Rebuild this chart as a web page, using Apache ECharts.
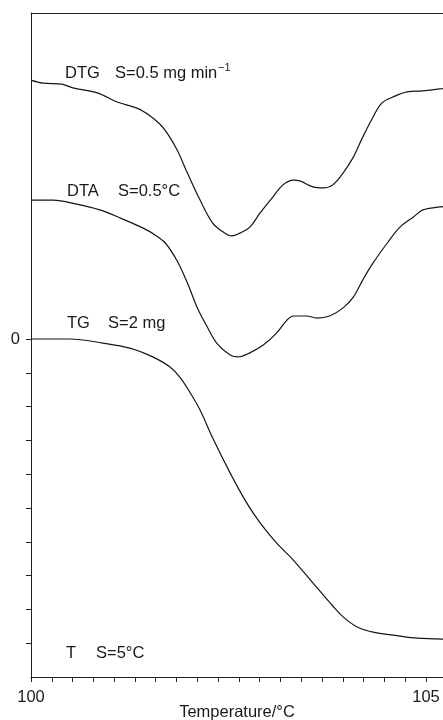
<!DOCTYPE html>
<html><head><meta charset="utf-8">
<script src="https://cdn.jsdelivr.net/npm/echarts@6/dist/echarts.min.js"></script>
<style>html,body{margin:0;padding:0;background:#fff}#c{width:443px;height:720px}</style>
</head><body><div id="c"></div>
<script>
// Temperature (°C) vs signal
var dtg = [[100.00,7.66],[100.15,7.57],[100.39,7.54],[100.53,7.43],[100.84,7.28],[101.09,7.01],[101.34,6.83],[101.51,6.60],[101.63,6.36],[101.73,6.07],[101.85,5.59],[101.98,4.91],[102.14,4.11],[102.30,3.43],[102.43,3.17],[102.54,3.05],[102.65,3.14],[102.77,3.31],[102.90,3.73],[103.06,4.20],[103.19,4.56],[103.32,4.70],[103.41,4.67],[103.57,4.50],[103.70,4.47],[103.82,4.56],[103.95,4.91],[104.08,5.38],[104.20,5.98],[104.33,6.57],[104.44,6.98],[104.58,7.16],[104.76,7.31],[104.96,7.34],[105.18,7.40],[105.22,7.41]];
var dta = [[100.00,4.11],[100.28,4.11],[100.58,3.99],[100.87,3.82],[101.13,3.58],[101.42,3.28],[101.57,3.08],[101.70,2.84],[101.85,2.31],[101.98,1.66],[102.10,0.95],[102.23,0.36],[102.35,-0.12],[102.52,-0.47],[102.62,-0.53],[102.77,-0.41],[102.94,-0.18],[103.11,0.18],[103.24,0.56],[103.32,0.68],[103.49,0.68],[103.62,0.62],[103.78,0.68],[103.95,0.92],[104.08,1.24],[104.20,1.75],[104.33,2.25],[104.51,2.84],[104.67,3.31],[104.84,3.61],[104.96,3.82],[105.18,3.91],[105.22,3.92]];
var tg = [[100.00,0],[100.49,0],[100.91,-0.12],[101.25,-0.27],[101.54,-0.53],[101.76,-0.83],[101.89,-1.15],[102.01,-1.57],[102.14,-2.10],[102.30,-2.93],[102.52,-3.96],[102.73,-4.85],[102.90,-5.44],[103.11,-6.04],[103.32,-6.54],[103.57,-7.22],[103.82,-7.90],[103.95,-8.22],[104.13,-8.52],[104.33,-8.67],[104.67,-8.79],[104.89,-8.85],[105.22,-8.88]];
var xLabels = [100, 105];
var yLabels = [0];
var yTicks = [-9,-8,-7,-6,-5,-4,-3,-2,-1,0];
var xTicks = [];
for (var k = 0; k <= 19; k++) xTicks.push(100 + k * 5 / 19);

var FONT = '"Liberation Sans", Arial, sans-serif';
var FS = 16.5;
var chart = echarts.init(document.getElementById('c'));
function line(d){
  return {type:'line', data:d, showSymbol:false, smooth:0.35, silent:true,
    lineStyle:{color:'#151515', width:1.2}};
}
function txt(t, x, y, size){
  return {type:'text', x:x, y:y, style:{text:t, fill:'#1a1a1a', font:(size||FS)+'px '+FONT, verticalAlign:'middle', align:'left'}};
}
chart.setOption({
  animation:false,
  grid:{left:31, right:0, top:13, bottom:43, outerBoundsMode:'none', containLabel:false},
  xAxis:[{
    type:'value', min:100, max:105.215, position:'bottom',
    axisLine:{onZero:false, lineStyle:{color:'#222', width:1}},
    axisTick:{customValues:xTicks, length:5, lineStyle:{color:'#222'}},
    axisLabel:{customValues:xLabels, color:'#1a1a1a', fontSize:FS, fontFamily:FONT, margin:12},
    splitLine:{show:false},
    name:'Temperature/°C', nameLocation:'middle', nameGap:27, nameMoveOverlap:false,
    nameTextStyle:{color:'#1a1a1a', fontSize:FS, fontFamily:FONT}
  },{
    type:'value', min:100, max:105.215, position:'top',
    axisLine:{show:true, onZero:false, lineStyle:{color:'#222', width:1}},
    axisTick:{show:false}, axisLabel:{show:false}, splitLine:{show:false}
  }],
  yAxis:{
    type:'value', min:-10, max:9.645,
    axisLine:{show:true, onZero:false, lineStyle:{color:'#222', width:1}},
    axisTick:{show:true, customValues:yTicks, length:5, lineStyle:{color:'#222'}},
    axisLabel:{customValues:yLabels, color:'#1a1a1a', fontSize:FS, fontFamily:FONT, margin:11},
    splitLine:{show:false}
  },
  series:[line(dtg), line(dta), line(tg)],
  graphic:[
    txt('DTG', 65, 73), txt('S=0.5 mg min', 115, 73), txt('\u22121', 218, 68, 11),
    txt('DTA', 67, 191), txt('S=0.5°C', 118, 191),
    txt('TG', 67, 323), txt('S=2 mg', 108, 323),
    txt('T', 66, 653), txt('S=5°C', 96, 653)
  ]
});
</script></body></html>
